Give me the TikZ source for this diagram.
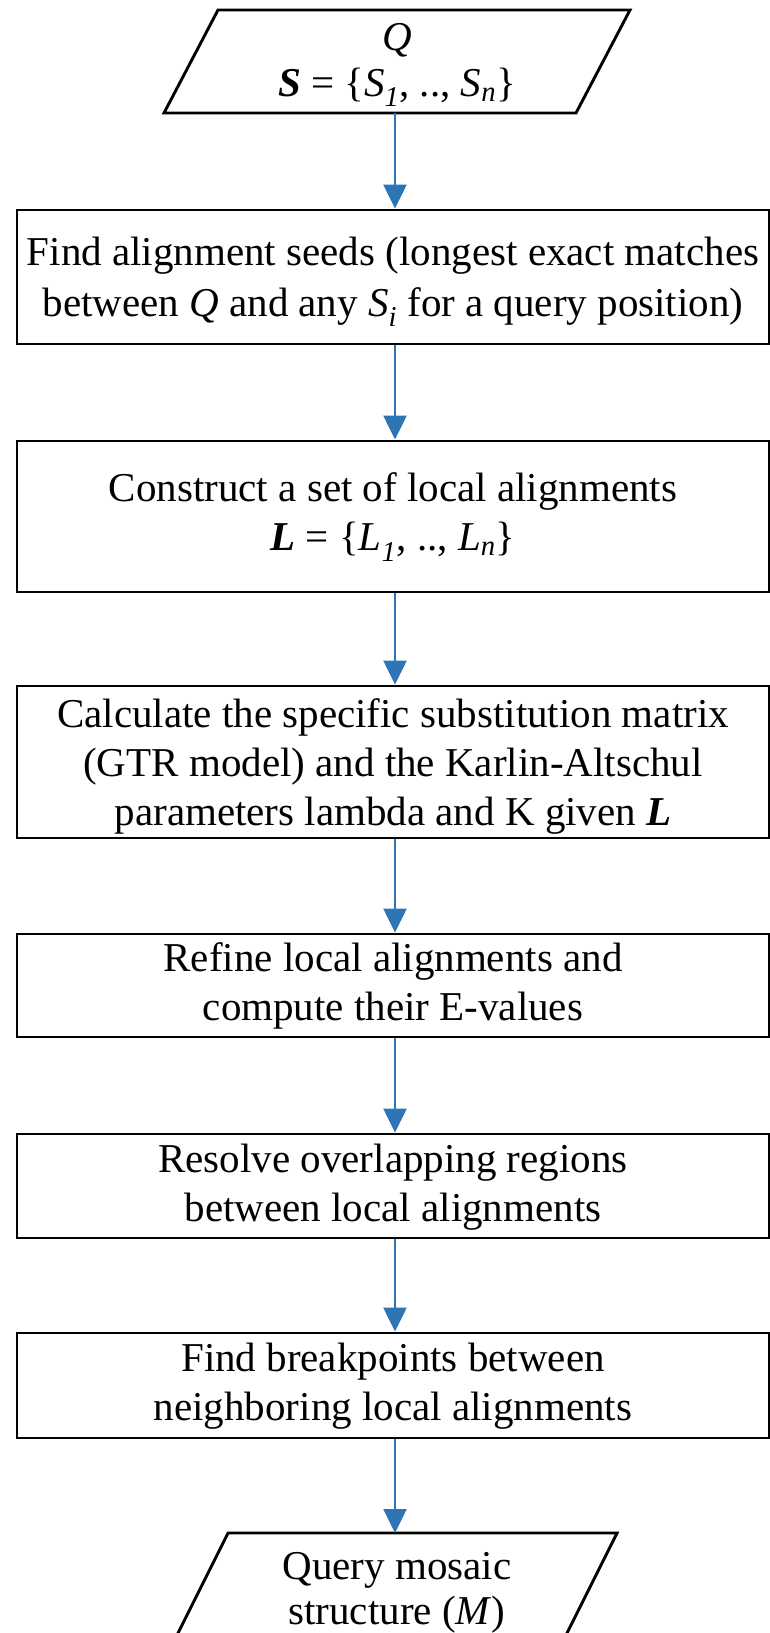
\documentclass[tikz,border=0pt]{standalone}
\usepackage{fontspec}
\setmainfont{Liberation Serif}
\usetikzlibrary{arrows.meta}
\definecolor{arrowblue}{RGB}{46,117,182}
\begin{document}
\begin{tikzpicture}[x=1pt,y=-1pt,
  txt/.style={align=center,font=\fontsize{41}{49}\selectfont,inner sep=0pt},
  box/.style={draw=black,line width=2.9pt,minimum width=752pt,inner sep=0pt},
  shapeline/.style={draw=black,line width=2.9pt,line join=miter},
  flow/.style={draw=arrowblue,line width=2.4pt,-{Triangle[width=23pt,length=24pt]}}]
\clip (0,0) rectangle (770,1633);
\fill[white] (0,0) rectangle (770,1633);
% input parallelogram
\draw[shapeline] (218,10) -- (630,10) -- (576,113) -- (164,113) -- cycle;
\node[txt,font=\fontsize{41}{46}\selectfont] (in) at (397,65) {\textit{Q}\\ \textbf{\textit{S}} = \{\textit{S}\textsubscript{\textit{1}}, .., \textit{S}\textsubscript{\textit{n}}\}};
\coordinate (inbot) at (395,113);
% process boxes
\node[box,minimum height=134pt] (b1) at (393,277) {};
\node[txt,font=\fontsize{41}{51}\selectfont] (t1) at (393,282) {Find alignment seeds (longest exact matches\\ between \textit{Q} and any \textit{S}\textsubscript{\textit{i}} for a query position)};
\node[box,minimum height=151pt] (b2) at (393,516.5) {};
\node[txt] (t2) at (393,517) {Construct a set of local alignments\\ \textbf{\textit{L}} = \{\textit{L}\textsubscript{\textit{1}}, .., \textit{L}\textsubscript{\textit{n}}\}};
\node[box,minimum height=152pt] (b3) at (393,762) {};
\node[txt] (t3) at (393,766) {Calculate the specific substitution matrix\\ (GTR model) and the Karlin-Altschul\\ parameters lambda and K given \textbf{\textit{L}}};
\node[box,minimum height=103pt] (b4) at (393,985.5) {};
\node[txt] (t4) at (393,986) {Refine local alignments and\\ compute their E-values};
\node[box,minimum height=104pt] (b5) at (393,1186) {};
\node[txt] (t5) at (393,1187) {Resolve overlapping regions\\ between local alignments};
\node[box,minimum height=105pt] (b6) at (393,1385.5) {};
\node[txt] (t6) at (393,1386) {Find breakpoints between\\ neighboring local alignments};
% output parallelogram
\draw[shapeline] (228,1533) -- (617,1533) -- (564,1639) -- (175,1639) -- cycle;
\node[txt,font=\fontsize{41}{45}\selectfont] (out) at (397,1593) {Query mosaic\\ structure (\textit{M})};
\coordinate (outtop) at (395,1533);
% connectors
\draw[flow] (inbot) -- ([xshift=2pt]b1.north);
\draw[flow] ([xshift=2pt]b1.south) -- ([xshift=2pt]b2.north);
\draw[flow] ([xshift=2pt]b2.south) -- ([xshift=2pt]b3.north);
\draw[flow] ([xshift=2pt]b3.south) -- ([xshift=2pt]b4.north);
\draw[flow] ([xshift=2pt]b4.south) -- ([xshift=2pt]b5.north);
\draw[flow] ([xshift=2pt]b5.south) -- ([xshift=2pt]b6.north);
\draw[flow] ([xshift=2pt]b6.south) -- (outtop);
\end{tikzpicture}
\end{document}
